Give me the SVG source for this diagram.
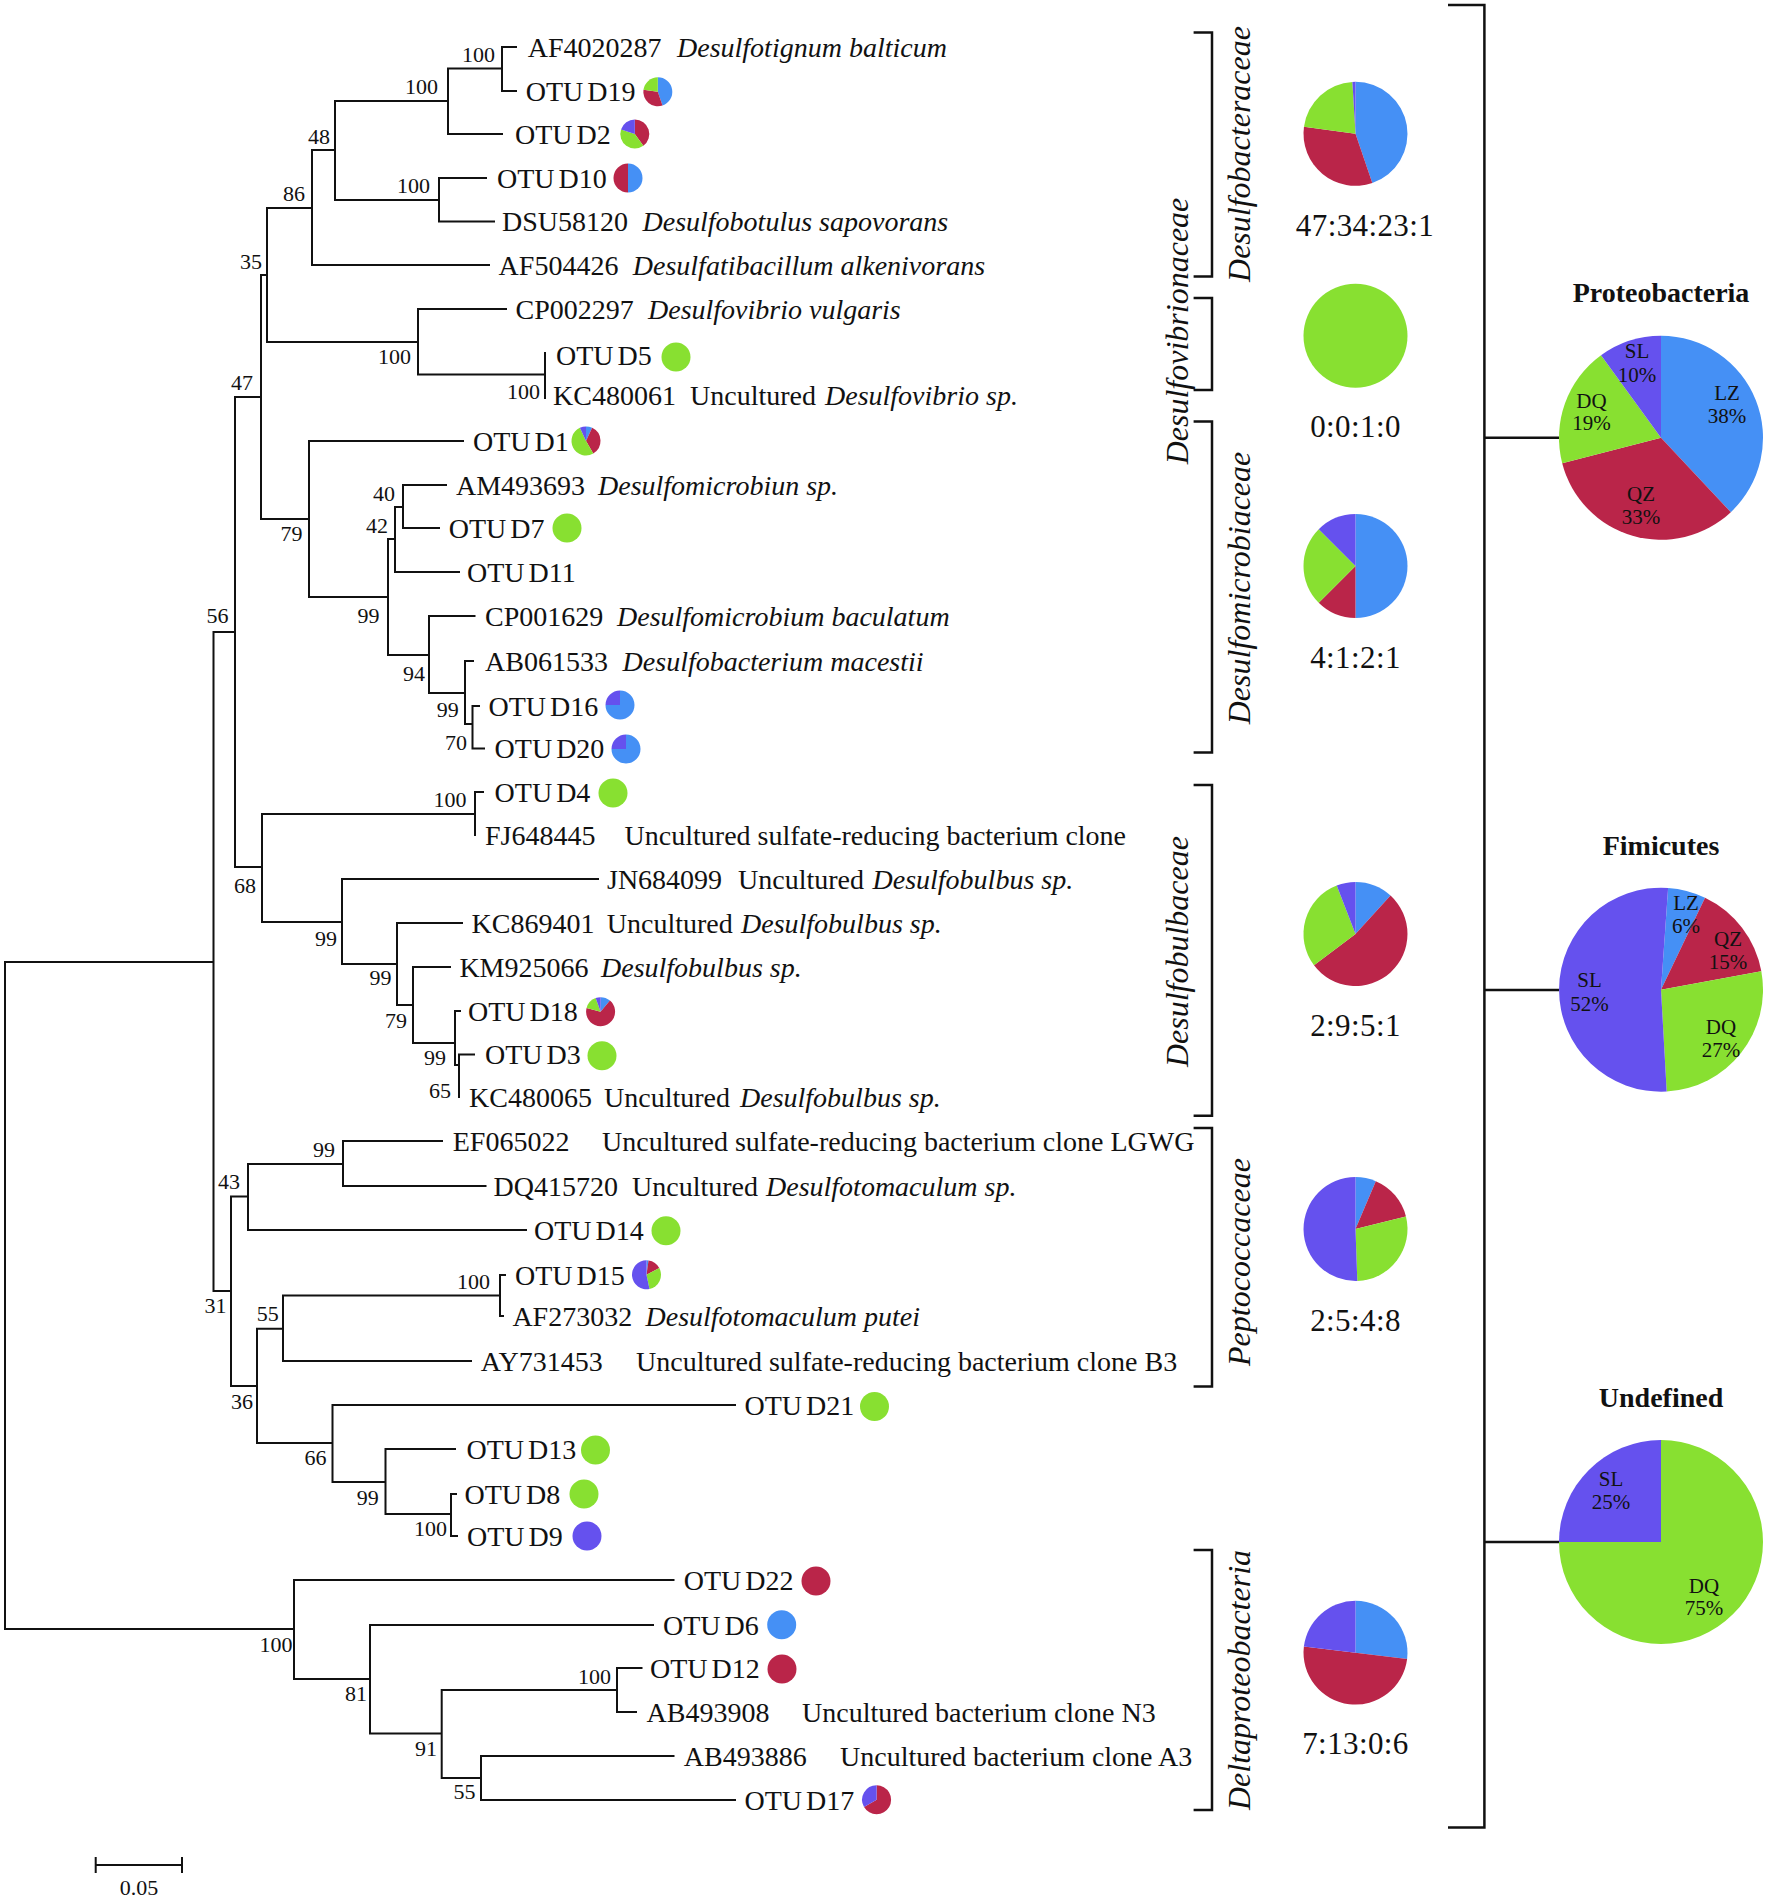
<svg xmlns="http://www.w3.org/2000/svg" width="1772" height="1899" viewBox="0 0 1772 1899">
<style>
text{font-family:"Liberation Serif","Times New Roman",serif;fill:#111}
.t{font-size:28px}
.o{word-spacing:-3px}
.i{font-style:italic}
.bs{font-size:22px;text-anchor:end}
.r{font-size:31px;text-anchor:middle;letter-spacing:0.4px}
.ttl{font-size:28px;font-weight:bold;text-anchor:middle}
.pl{font-size:21px;text-anchor:middle}
.fam{font-size:32px;font-style:italic;text-anchor:middle}
.ln{fill:none;stroke:#111;stroke-width:2;stroke-linecap:square}
.br{fill:none;stroke:#111;stroke-width:2.5}
.B{fill:#4590F5}.R{fill:#BA2549}.G{fill:#88E031}.P{fill:#6551EE}
</style>
<rect width="1772" height="1899" fill="#fff"/>
<g id="connectors">
<path class="ln" d="M5 962V1629M5 962H213.5M5 1629H294M213.5 632V1291M213.5 632H235M213.5 1291H231M235 397V867M235 397H261M235 867H262M261 275V519M261 275H267M261 519H309M267 208V342M267 208H312M267 342H418M312 150V265M312 150H335M312 265H489M335 101V200M335 101H448M335 200H439M448 68.5V134M448 68.5H502M448 134H502M502 47V91M502 47H516M502 91H516M439 178V221.5M439 178H486M439 221.5H494M418 309V374.5M418 309H506M418 374.5H545M545 353V398M309 441V597M309 441H463M309 597H388M388 539V655M388 539H395M388 655H429M395 507V572M395 507H403M395 572H459M403 485V528M403 485H446M403 528H439M429 616V693M429 616H474.5M429 693H465M465 661V724M465 661H473M465 724H472.5M472.5 706V748.5M472.5 706H479M472.5 748.5H484M262 814V922M262 814H475M262 922H342M475 792V835M475 792H483M342 879V964M342 879H598M342 964H397M397 923V1005M397 923H462M397 1005H413M413 967V1043M413 967H450M413 1043H455M455 1011V1065M455 1011H460M455 1065H459M459 1054.5V1097M459 1054.5H474M231 1196.5V1386M231 1196.5H248M231 1386H257M248 1164V1230M248 1164H343M248 1230H526M343 1141V1186M343 1141H442M343 1186H485.5M257 1328.7V1443M257 1328.7H283M257 1443H332.5M283 1295.5V1361M283 1295.5H500M283 1361H471M500 1275V1316M500 1275H505M500 1316H503M332.5 1405V1482M332.5 1405H735M332.5 1482H385.5M385.5 1449V1514M385.5 1449H455M385.5 1514H451M451 1494V1536M451 1494H456M451 1536H457M294 1580V1679M294 1580H673.5M294 1679H370M370 1625V1733.5M370 1625H653M370 1733.5H441.7M441.7 1690V1778M441.7 1690H617M441.7 1778H481M617 1668V1712M617 1668H641.5M617 1712H636M481 1756V1800M481 1756H673.5M481 1800H735"/>
<path class="br" d="M1193.6 32.6H1212V276.6H1193.6M1193.6 298H1212V390H1193.6M1193.6 421.5H1212V752.6H1193.6M1193.6 785H1212V1115.7H1193.6M1193.6 1128H1212V1386.6H1193.6M1193.6 1550H1212V1810H1193.6"/>
<path class="br" d="M1448 5H1484.4V1827.5H1448M1484.4 437.8H1559M1484.4 990H1559M1484.4 1542H1559"/>
</g>
<g id="bootstrap">
<text class="bs" x="495" y="62">100</text>
<text class="bs" x="438" y="94">100</text>
<text class="bs" x="330" y="144">48</text>
<text class="bs" x="430" y="192.6">100</text>
<text class="bs" x="305" y="200.7">86</text>
<text class="bs" x="262" y="269">35</text>
<text class="bs" x="411" y="364">100</text>
<text class="bs" x="540" y="399">100</text>
<text class="bs" x="253" y="390">47</text>
<text class="bs" x="395" y="500.6">40</text>
<text class="bs" x="388" y="533">42</text>
<text class="bs" x="302.5" y="540.6">79</text>
<text class="bs" x="379.6" y="623">99</text>
<text class="bs" x="228.5" y="623">56</text>
<text class="bs" x="425" y="681">94</text>
<text class="bs" x="458.7" y="717">99</text>
<text class="bs" x="467" y="750">70</text>
<text class="bs" x="466.6" y="807">100</text>
<text class="bs" x="256" y="893">68</text>
<text class="bs" x="337" y="946">99</text>
<text class="bs" x="391.5" y="985">99</text>
<text class="bs" x="407" y="1028">79</text>
<text class="bs" x="446" y="1065">99</text>
<text class="bs" x="451" y="1098">65</text>
<text class="bs" x="335" y="1156.5">99</text>
<text class="bs" x="240" y="1189">43</text>
<text class="bs" x="226.6" y="1313">31</text>
<text class="bs" x="278.8" y="1321">55</text>
<text class="bs" x="490" y="1288.5">100</text>
<text class="bs" x="253" y="1409">36</text>
<text class="bs" x="326.6" y="1465">66</text>
<text class="bs" x="378.8" y="1504.6">99</text>
<text class="bs" x="447" y="1535.7">100</text>
<text class="bs" x="292.6" y="1651.6">100</text>
<text class="bs" x="367" y="1701">81</text>
<text class="bs" x="437" y="1756">91</text>
<text class="bs" x="611" y="1683.5">100</text>
<text class="bs" x="475.6" y="1798.5">55</text>
</g>
<g id="leaf-AF4020287"><text class="t" x="527.7" y="56.5">AF4020287<tspan class="i" x="677">Desulfotignum balticum</tspan></text></g>
<g id="leaf-D19"><text class="t o" x="525.7" y="100.5">OTU D19</text>
<path class="B" d="M657.8 91.8L657.8 77.3A14.5 14.5 0 0 1 662.49 105.52Z"/><path class="R" d="M657.8 91.8L662.49 105.52A14.5 14.5 0 0 1 643.43 89.85Z"/><path class="G" d="M657.8 91.8L643.43 89.85A14.5 14.5 0 0 1 657.8 77.3Z"/></g>
<g id="leaf-D2"><text class="t o" x="515" y="143.5">OTU D2</text>
<path class="R" d="M634.8 134L634.8 119.5A14.5 14.5 0 0 1 643.32 145.73Z"/><path class="G" d="M634.8 134L643.32 145.73A14.5 14.5 0 0 1 621.01 129.52Z"/><path class="P" d="M634.8 134L621.01 129.52A14.5 14.5 0 0 1 634.8 119.5Z"/></g>
<g id="leaf-D10"><text class="t o" x="497" y="187.5">OTU D10</text>
<path class="B" d="M628 178L628 163.5A14.5 14.5 0 0 1 628 192.5Z"/><path class="R" d="M628 178L628 192.5A14.5 14.5 0 0 1 628 163.5Z"/></g>
<g id="leaf-DSU58120"><text class="t" x="502" y="231">DSU58120<tspan class="i" x="642.5">Desulfobotulus sapovorans</tspan></text></g>
<g id="leaf-AF504426"><text class="t" x="498.6" y="274.5">AF504426<tspan class="i" x="632.8">Desulfatibacillum alkenivorans</tspan></text></g>
<g id="leaf-CP002297"><text class="t" x="515.5" y="318.5">CP002297<tspan class="i" x="648">Desulfovibrio vulgaris</tspan></text></g>
<g id="leaf-D5"><text class="t o" x="556" y="364.5">OTU D5</text><circle class="G" cx="676" cy="357" r="14.5"/></g>
<g id="leaf-KC480061"><text class="t" x="553" y="404.5">KC480061<tspan x="690">Uncultured</tspan><tspan class="i" x="825">Desulfovibrio sp.</tspan></text></g>
<g id="leaf-D1"><text class="t o" x="473" y="450.5">OTU D1</text>
<path class="B" d="M586 441L586 426.5A14.5 14.5 0 0 1 592.13 427.86Z"/><path class="R" d="M586 441L592.13 427.86A14.5 14.5 0 0 1 593.25 453.56Z"/><path class="G" d="M586 441L593.25 453.56A14.5 14.5 0 1 1 579.87 427.86Z"/><path class="P" d="M586 441L579.87 427.86A14.5 14.5 0 0 1 586 426.5Z"/></g>
<g id="leaf-AM493693"><text class="t" x="456" y="494.5">AM493693<tspan class="i" x="598">Desulfomicrobiun sp.</tspan></text></g>
<g id="leaf-D7"><text class="t o" x="448.7" y="537.5">OTU D7</text><circle class="G" cx="567" cy="528" r="14.5"/></g>
<g id="leaf-D11"><text class="t o" x="467" y="581.5">OTU D11</text></g>
<g id="leaf-CP001629"><text class="t" x="485" y="625.5">CP001629<tspan class="i" x="617">Desulfomicrobium baculatum</tspan></text></g>
<g id="leaf-AB061533"><text class="t" x="485" y="670.5">AB061533<tspan class="i" x="622.6">Desulfobacterium macestii</tspan></text></g>
<g id="leaf-D16"><text class="t o" x="488.5" y="715.5">OTU D16</text>
<path class="B" d="M620 705L620 690.5A14.5 14.5 0 1 1 605.5 705Z"/><path class="P" d="M620 705L605.5 705A14.5 14.5 0 0 1 620 690.5Z"/></g>
<g id="leaf-D20"><text class="t o" x="494.6" y="758">OTU D20</text>
<path class="B" d="M626 749L626 734.5A14.5 14.5 0 1 1 611.5 749Z"/><path class="P" d="M626 749L611.5 749A14.5 14.5 0 0 1 626 734.5Z"/></g>
<g id="leaf-D4"><text class="t o" x="494.6" y="801.5">OTU D4</text><circle class="G" cx="613" cy="793" r="14.5"/></g>
<g id="leaf-FJ648445"><text class="t" x="485" y="844.5">FJ648445<tspan x="624.6">Uncultured sulfate-reducing bacterium clone</tspan></text></g>
<g id="leaf-JN684099"><text class="t" x="607" y="888.5">JN684099<tspan x="738">Uncultured</tspan><tspan class="i" x="872.5">Desulfobulbus sp.</tspan></text></g>
<g id="leaf-KC869401"><text class="t" x="471.6" y="932.5">KC869401<tspan x="606.8">Uncultured</tspan><tspan class="i" x="741">Desulfobulbus sp.</tspan></text></g>
<g id="leaf-KM925066"><text class="t" x="459.4" y="976.5">KM925066<tspan class="i" x="601">Desulfobulbus sp.</tspan></text></g>
<g id="leaf-D18"><text class="t o" x="468" y="1020.5">OTU D18</text>
<path class="B" d="M600.6 1011.7L600.6 997.2A14.5 14.5 0 0 1 609.92 1000.59Z"/><path class="R" d="M600.6 1011.7L609.92 1000.59A14.5 14.5 0 1 1 586.59 1007.95Z"/><path class="G" d="M600.6 1011.7L586.59 1007.95A14.5 14.5 0 0 1 595.64 998.07Z"/><path class="P" d="M600.6 1011.7L595.64 998.07A14.5 14.5 0 0 1 600.6 997.2Z"/></g>
<g id="leaf-D3"><text class="t o" x="485" y="1064">OTU D3</text><circle class="G" cx="602" cy="1055.7" r="14.5"/></g>
<g id="leaf-KC480065"><text class="t" x="469" y="1106.5">KC480065<tspan x="604">Uncultured</tspan><tspan class="i" x="740">Desulfobulbus sp.</tspan></text></g>
<g id="leaf-EF065022"><text class="t" x="452.75" y="1150.5">EF065022<tspan x="602">Uncultured sulfate-reducing bacterium clone LGWG</tspan></text></g>
<g id="leaf-DQ415720"><text class="t" x="493.5" y="1195.5">DQ415720<tspan x="632">Uncultured</tspan><tspan class="i" x="766">Desulfotomaculum sp.</tspan></text></g>
<g id="leaf-D14"><text class="t o" x="534" y="1239.5">OTU D14</text><circle class="G" cx="666" cy="1230.8" r="14.5"/></g>
<g id="leaf-D15"><text class="t o" x="515" y="1284.5">OTU D15</text>
<path class="B" d="M646.5 1274.8L646.5 1260.3A14.5 14.5 0 0 1 648.52 1260.44Z"/><path class="R" d="M646.5 1274.8L648.52 1260.44A14.5 14.5 0 0 1 659.3 1268Z"/><path class="G" d="M646.5 1274.8L659.3 1268A14.5 14.5 0 0 1 649.51 1288.98Z"/><path class="P" d="M646.5 1274.8L649.51 1288.98A14.5 14.5 0 1 1 646.5 1260.3Z"/></g>
<g id="leaf-AF273032"><text class="t" x="512.4" y="1325.5">AF273032<tspan class="i" x="645.5">Desulfotomaculum putei</tspan></text></g>
<g id="leaf-AY731453"><text class="t" x="480.8" y="1370.5">AY731453<tspan x="636">Uncultured sulfate-reducing bacterium clone B3</tspan></text></g>
<g id="leaf-D21"><text class="t o" x="744.5" y="1414.5">OTU D21</text><circle class="G" cx="874.5" cy="1406.5" r="14.5"/></g>
<g id="leaf-D13"><text class="t o" x="466.5" y="1458.5">OTU D13</text><circle class="G" cx="595.5" cy="1450" r="14.5"/></g>
<g id="leaf-D8"><text class="t o" x="464.5" y="1503.5">OTU D8</text><circle class="G" cx="584" cy="1494" r="14.5"/></g>
<g id="leaf-D9"><text class="t o" x="467" y="1545.5">OTU D9</text><circle class="P" cx="587" cy="1536" r="14.5"/></g>
<g id="leaf-D22"><text class="t o" x="683.8" y="1589.5">OTU D22</text><circle class="R" cx="816" cy="1581" r="14.5"/></g>
<g id="leaf-D6"><text class="t o" x="663" y="1634.5">OTU D6</text><circle class="B" cx="781.7" cy="1624.7" r="14.5"/></g>
<g id="leaf-D12"><text class="t o" x="650" y="1677.5">OTU D12</text><circle class="R" cx="782" cy="1669" r="14.5"/></g>
<g id="leaf-AB493908"><text class="t" x="646.5" y="1721.5">AB493908<tspan x="802">Uncultured bacterium clone N3</tspan></text></g>
<g id="leaf-AB493886"><text class="t" x="683.8" y="1765.5">AB493886<tspan x="840">Uncultured bacterium clone A3</tspan></text></g>
<g id="leaf-D17"><text class="t o" x="744.5" y="1809.5">OTU D17</text>
<path class="R" d="M876.6 1799.8L876.6 1785.3A14.5 14.5 0 1 1 864.04 1807.05Z"/><path class="P" d="M876.6 1799.8L864.04 1807.05A14.5 14.5 0 0 1 876.6 1785.3Z"/></g>
<g id="scale-bar"><path class="ln" d="M95.7 1865H182M95.7 1858V1872M182 1858V1872"/><text x="139" y="1895" style="font-size:22px;text-anchor:middle">0.05</text></g>
<g id="family-labels">
<text class="fam" transform="translate(1250 154) rotate(-90)">Desulfobacteraceae</text>
<text class="fam" transform="translate(1188 331) rotate(-90)">Desulfovibrionaceae</text>
<text class="fam" transform="translate(1250 588) rotate(-90)">Desulfomicrobiaceae</text>
<text class="fam" transform="translate(1188 951.6) rotate(-90)">Desulfobulbaceae</text>
<text class="fam" transform="translate(1250 1262) rotate(-90)">Peptococcaceae</text>
<text class="fam" transform="translate(1250 1680) rotate(-90)">Deltaproteobacteria</text>
</g>
<g id="pie-desulfobacteraceae">
<path class="B" d="M1355.5 133.8L1355.5 81.8A52 52 0 0 1 1372.31 183.01Z"/><path class="R" d="M1355.5 133.8L1372.31 183.01A52 52 0 0 1 1303.97 126.82Z"/><path class="G" d="M1355.5 133.8L1303.97 126.82A52 52 0 0 1 1352.39 81.89Z"/><path class="P" d="M1355.5 133.8L1352.39 81.89A52 52 0 0 1 1355.5 81.8Z"/>
<text class="r" x="1365" y="236">47:34:23:1</text></g>
<g id="pie-desulfovibrionaceae"><circle class="G" cx="1355.5" cy="335.8" r="52"/><text class="r" x="1355.5" y="436.6">0:0:1:0</text></g>
<g id="pie-desulfomicrobiaceae">
<path class="B" d="M1355.5 566L1355.5 514A52 52 0 0 1 1355.5 618Z"/><path class="R" d="M1355.5 566L1355.5 618A52 52 0 0 1 1318.73 602.77Z"/><path class="G" d="M1355.5 566L1318.73 602.77A52 52 0 0 1 1318.73 529.23Z"/><path class="P" d="M1355.5 566L1318.73 529.23A52 52 0 0 1 1355.5 514Z"/>
<text class="r" x="1355.5" y="668">4:1:2:1</text></g>
<g id="pie-desulfobulbaceae">
<path class="B" d="M1355.5 934L1355.5 882A52 52 0 0 1 1390.53 895.57Z"/><path class="R" d="M1355.5 934L1390.53 895.57A52 52 0 1 1 1314 965.34Z"/><path class="G" d="M1355.5 934L1314 965.34A52 52 0 0 1 1336.71 885.51Z"/><path class="P" d="M1355.5 934L1336.71 885.51A52 52 0 0 1 1355.5 882Z"/>
<text class="r" x="1355.5" y="1036">2:9:5:1</text></g>
<g id="pie-peptococcaceae">
<path class="B" d="M1355.5 1229L1355.5 1177A52 52 0 0 1 1375.82 1181.13Z"/><path class="R" d="M1355.5 1229L1375.82 1181.13A52 52 0 0 1 1405.96 1216.42Z"/><path class="G" d="M1355.5 1229L1405.96 1216.42A52 52 0 0 1 1357.31 1280.97Z"/><path class="P" d="M1355.5 1229L1357.31 1280.97A52 52 0 1 1 1355.5 1177Z"/>
<text class="r" x="1355.5" y="1330.7">2:5:4:8</text></g>
<g id="pie-deltaproteobacteria">
<path class="B" d="M1355.5 1652.8L1355.5 1600.8A52 52 0 0 1 1407.12 1659.07Z"/><path class="R" d="M1355.5 1652.8L1407.12 1659.07A52 52 0 0 1 1303.88 1646.53Z"/><path class="P" d="M1355.5 1652.8L1303.88 1646.53A52 52 0 0 1 1355.5 1600.8Z"/>
<text class="r" x="1355.5" y="1754">7:13:0:6</text></g>
<g id="proteobacteria">
<text class="ttl" x="1661" y="302">Proteobacteria</text>
<path class="B" d="M1661 437.8L1661 335.8A102 102 0 0 1 1730.82 512.16Z"/><path class="R" d="M1661 437.8L1730.82 512.16A102 102 0 0 1 1562.2 463.17Z"/><path class="G" d="M1661 437.8L1562.2 463.17A102 102 0 0 1 1601.04 355.28Z"/><path class="P" d="M1661 437.8L1601.04 355.28A102 102 0 0 1 1661 335.8Z"/>
<text class="pl" x="1637" y="358">SL</text><text class="pl" x="1637" y="381.5">10%</text>
<text class="pl" x="1727" y="400">LZ</text><text class="pl" x="1727" y="423">38%</text>
<text class="pl" x="1591.5" y="408">DQ</text><text class="pl" x="1591.5" y="430">19%</text>
<text class="pl" x="1641" y="501">QZ</text><text class="pl" x="1641" y="524">33%</text>
</g>
<g id="fimicutes">
<text class="ttl" x="1661" y="854.6">Fimicutes</text>
<path class="B" d="M1661 989.7L1668.12 887.94A102 102 0 0 1 1705.07 897.72Z"/><path class="R" d="M1661 989.7L1705.07 897.72A102 102 0 0 1 1761.33 971.29Z"/><path class="G" d="M1661 989.7L1761.33 971.29A102 102 0 0 1 1666.69 1091.54Z"/><path class="P" d="M1661 989.7L1666.69 1091.54A102 102 0 1 1 1668.12 887.94Z"/>
<text class="pl" x="1686" y="909.7">LZ</text><text class="pl" x="1686" y="933">6%</text>
<text class="pl" x="1728" y="946">QZ</text><text class="pl" x="1728" y="969">15%</text>
<text class="pl" x="1589.5" y="987">SL</text><text class="pl" x="1589.5" y="1011">52%</text>
<text class="pl" x="1721" y="1034">DQ</text><text class="pl" x="1721" y="1057">27%</text>
</g>
<g id="undefined">
<text class="ttl" x="1661" y="1407">Undefined</text>
<path class="G" d="M1661 1542L1661 1440A102 102 0 1 1 1559 1542Z"/><path class="P" d="M1661 1542L1559 1542A102 102 0 0 1 1661 1440Z"/>
<text class="pl" x="1611" y="1486">SL</text><text class="pl" x="1611" y="1509">25%</text>
<text class="pl" x="1704" y="1593">DQ</text><text class="pl" x="1704" y="1615">75%</text>
</g>
</svg>
